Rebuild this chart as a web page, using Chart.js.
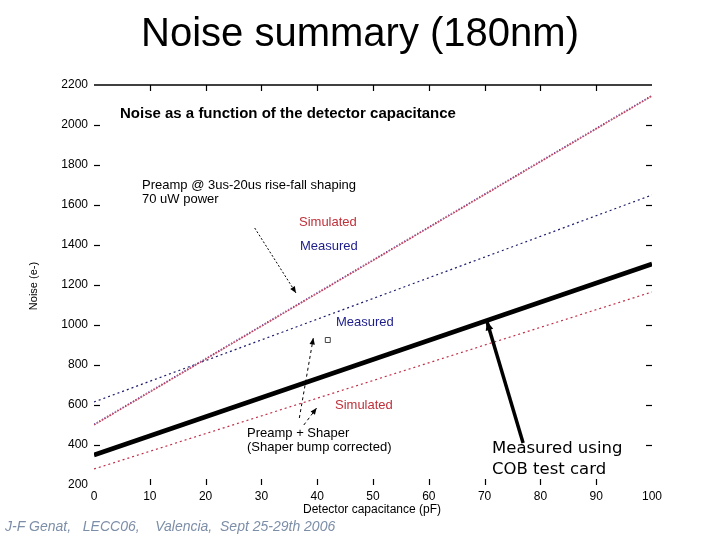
<!DOCTYPE html>
<html>
<head>
<meta charset="utf-8">
<script src="https://cdn.jsdelivr.net/npm/chart.js@4"></script>
<style>
html,body{margin:0;padding:0;background:#fff;}
#wrap{width:720px;height:540px;position:relative;}
</style>
</head>
<body>
<div id="wrap"><canvas id="c" width="720" height="540"></canvas></div>
<script>
// ---- data ----
const capacitance = [0, 100];                 // pF
const preampSimulated = [500, 2145];          // e-
const preampMeasured = [505, 2150];           // e-
const shaperMeasured = [615, 1650];           // e-
const shaperSimulated = [280, 1165];          // e-
const cobMeasured = [350, 1305];              // e-
const singlePoint = [{x: 41.9, y: 925}];
const xTicks = [0, 10, 20, 30, 40, 50, 60, 70, 80, 90, 100];
const yTicks = [200, 400, 600, 800, 1000, 1200, 1400, 1600, 1800, 2000, 2200];

const pts = vals => capacitance.map((c, i) => ({x: c, y: vals[i]}));

const annot = {
  id: 'annot',
  afterDraw(chart) {
    const {ctx, chartArea: a, scales: {x, y}} = chart;
    const F = 'Arial, "Liberation Sans", sans-serif';
    ctx.save();
    // top border line
    ctx.strokeStyle = '#000';
    ctx.lineWidth = 1.5;
    ctx.beginPath(); ctx.moveTo(a.left, a.top); ctx.lineTo(a.right, a.top); ctx.stroke();
    // inner ticks
    ctx.lineWidth = 1.2;
    xTicks.slice(1, -1).forEach(v => {
      const px = Math.round(x.getPixelForValue(v)) + 0.5;
      ctx.beginPath(); ctx.moveTo(px, a.top); ctx.lineTo(px, a.top + 6); ctx.stroke();
      ctx.beginPath(); ctx.moveTo(px, a.bottom); ctx.lineTo(px, a.bottom - 6); ctx.stroke();
    });
    yTicks.slice(1, -1).forEach(v => {
      const py = Math.round(y.getPixelForValue(v)) + 0.5;
      ctx.beginPath(); ctx.moveTo(a.left, py); ctx.lineTo(a.left + 6, py); ctx.stroke();
      ctx.beginPath(); ctx.moveTo(a.right, py); ctx.lineTo(a.right - 6, py); ctx.stroke();
    });

    // title
    ctx.fillStyle = '#000';
    ctx.textAlign = 'center';
    ctx.textBaseline = 'alphabetic';
    ctx.font = '40px ' + F;
    ctx.fillText('Noise summary (180nm)', 360, 46);

    // axis titles
    ctx.font = '12px ' + F;
    ctx.textBaseline = 'middle';
    ctx.fillText('Detector capacitance (pF)', 372, 510);
    ctx.save();
    ctx.translate(34, 286); ctx.rotate(-Math.PI / 2);
    ctx.font = '11px ' + F;
    ctx.fillText('Noise (e-)', 0, 0);
    ctx.restore();

    // labels
    ctx.textAlign = 'left';
    ctx.font = 'bold 15px ' + F;
    ctx.fillText('Noise as a function of the detector capacitance', 120, 114);
    ctx.font = '13px ' + F;
    ctx.fillText('Preamp @ 3us-20us rise-fall shaping', 142, 185);
    ctx.fillText('70 uW power', 142, 199);
    ctx.fillText('Preamp + Shaper', 247, 433);
    ctx.fillText('(Shaper bump corrected)', 247, 447);
    ctx.fillStyle = '#c0303a';
    ctx.fillText('Simulated', 299, 222);
    ctx.fillText('Simulated', 335, 405);
    ctx.fillStyle = '#1c1c8c';
    ctx.font = '13px ' + F;
    ctx.fillText('Measured', 300, 246);
    ctx.fillText('Measured', 336, 322);
    ctx.fillStyle = '#000';
    ctx.font = '16.5px "DejaVu Sans", sans-serif';
    ctx.fillText('Measured using', 492, 449);
    ctx.fillText('COB test card', 492, 470);

    // footer
    ctx.fillStyle = '#7d8ea8';
    ctx.font = 'italic 14px ' + F;
    ctx.fillText('J-F Genat,   LECC06,    Valencia,  Sept 25-29th 2006', 5, 527);

    // arrows (data coordinates)
    const arrow = (x0, y0, x1, y1, w, dash, head) => {
      const p0 = [x.getPixelForValue(x0), y.getPixelForValue(y0)];
      const p1 = [x.getPixelForValue(x1), y.getPixelForValue(y1)];
      ctx.strokeStyle = '#000'; ctx.fillStyle = '#000';
      ctx.lineWidth = w; ctx.setLineDash(dash);
      ctx.beginPath(); ctx.moveTo(p0[0], p0[1]); ctx.lineTo(p1[0], p1[1]); ctx.stroke();
      ctx.setLineDash([]);
      const ang = Math.atan2(p1[1] - p0[1], p1[0] - p0[0]);
      ctx.beginPath();
      ctx.moveTo(p1[0], p1[1]);
      ctx.lineTo(p1[0] - head * Math.cos(ang - 0.4), p1[1] - head * Math.sin(ang - 0.4));
      ctx.lineTo(p1[0] - head * Math.cos(ang + 0.4), p1[1] - head * Math.sin(ang + 0.4));
      ctx.closePath(); ctx.fill();
    };
    arrow(28.8, 1485, 36.2, 1160, 1, [2, 2], 7);
    arrow(36.8, 535, 39.3, 935, 1, [3, 3], 7);
    arrow(37.6, 500, 39.9, 585, 1, [3, 3], 7);
    arrow(76.9, 410, 70.4, 1020, 3.5, [], 10);
    ctx.restore();
  }
};

new Chart(document.getElementById('c'), {
  type: 'line',
  data: {
    datasets: [
      {label: 'Preamp simulated', data: pts(preampSimulated), borderColor: '#c04060', borderWidth: 1.3, borderDash: [2, 1], pointRadius: 0},
      {label: 'Preamp measured', data: pts(preampMeasured), borderColor: '#3a2a9a', borderWidth: 1, borderDash: [1, 2], pointRadius: 0},
      {label: 'Preamp+Shaper measured', data: pts(shaperMeasured), borderColor: '#1c1c6c', borderWidth: 1.2, borderDash: [2, 3], pointRadius: 0},
      {label: 'Preamp+Shaper simulated', data: pts(shaperSimulated), borderColor: '#c03048', borderWidth: 1.2, borderDash: [2, 3], pointRadius: 0},
      {label: 'COB measured', data: pts(cobMeasured), borderColor: '#000', borderWidth: 4.5, pointRadius: 0},
      {label: 'point', data: singlePoint, showLine: false, pointStyle: 'rect', pointRadius: 3.5, borderColor: '#444', borderWidth: 1, backgroundColor: '#fff'}
    ]
  },
  options: {
    responsive: false,
    animation: false,
    layout: {padding: {top: 85, right: 68, left: 0, bottom: 0}},
    plugins: {legend: {display: false}, tooltip: {enabled: false}},
    scales: {
      x: {
        type: 'linear', min: 0, max: 100,
        afterFit: s => { s.height = 55; },
        afterBuildTicks: s => { s.ticks = xTicks.map(v => ({value: v})); },
        grid: {display: false, drawTicks: false},
        border: {display: false},
        ticks: {padding: 4, color: '#000', font: {size: 12, family: 'Arial, "Liberation Sans", sans-serif'}, maxRotation: 0, callback: v => String(v)}
      },
      y: {
        type: 'linear', min: 200, max: 2200,
        afterFit: s => { s.width = 94; },
        afterBuildTicks: s => { s.ticks = yTicks.map(v => ({value: v})); },
        grid: {display: false, drawTicks: false},
        border: {display: false},
        ticks: {padding: 6, color: '#000', font: {size: 12, family: 'Arial, "Liberation Sans", sans-serif'}, callback: v => String(v)}
      }
    }
  },
  plugins: [annot]
});
</script>
</body>
</html>
